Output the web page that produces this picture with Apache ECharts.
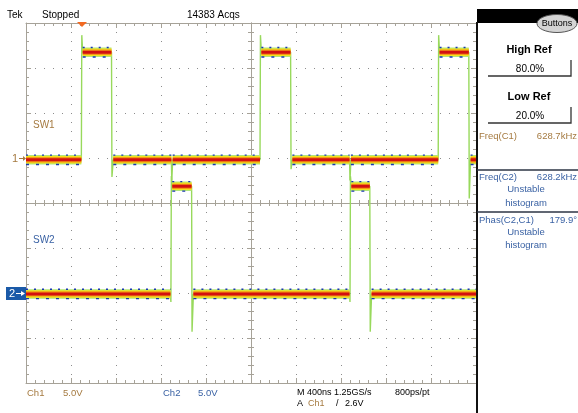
<!DOCTYPE html>
<html><head><meta charset="utf-8">
<script src="https://cdn.jsdelivr.net/npm/echarts@6/dist/echarts.min.js"></script>
<style>html,body{margin:0;padding:0;background:#fff}#c{width:578px;height:413px}</style>
</head><body><div id="c"></div><script>
// Graticule units: divisions (x: -5..5, y: -4..4)
// CH1 (SW1) trace
const ch1X = [-5, -3.77, -3.76, -3.74, -3.10, -3.09, -3.06, -1.77, -1.76, -1.74, 0.20, 0.21, 0.23, 0.88, 0.89, 0.92, 2.19, 2.20, 2.22, 4.16, 4.17, 4.19, 4.84, 4.85, 4.88, 5];
const ch1Y = [0.96, 0.96, 3.73, 3.35, 3.35, 0.58, 0.96, 0.96, 0.5, 0.96, 0.96, 3.73, 3.35, 3.35, 0.75, 0.96, 0.96, 0.5, 0.96, 0.96, 3.73, 3.35, 3.35, 0.1, 0.96, 0.96];
// CH2 (SW2) trace
const ch2X = [-5, -1.79, -1.78, -1.77, -1.75, -1.32, -1.31, -1.28, 2.19, 2.20, 2.21, 2.23, 2.64, 2.65, 2.68, 5];
const ch2Y = [-2.02, -2.02, -2.2, 0.6, 0.37, 0.37, -2.86, -2.02, -2.02, -2.2, 0.6, 0.37, 0.37, -2.86, -2.02, -2.02];
const xRange = [-5, 5];
const yRange = [-4, 4];

const tan = '#a57a40', blue = '#3a62a4', grat = '#a6a298';
const FONT = "'Liberation Sans', Arial, sans-serif";

function pts(xs, ys) { return xs.map((x, i) => [x, ys[i]]); }
function flats(xs, ys, dy) {
  const out = [];
  for (let i = 0; i < xs.length - 1; i++) {
    if (ys[i] === ys[i + 1] && xs[i + 1] > xs[i]) {
      out.push([xs[i], ys[i] + dy], [xs[i + 1], ys[i + 1] + dy], ['-', '-']);
    }
  }
  return out;
}
function lineS(data, color, width, type, z) {
  return { type: 'line', data: data, symbol: 'none', silent: true, animation: false, connectNulls: false, z: z,
    lineStyle: { color: color, width: width, type: type || 'solid', cap: 'butt' } };
}
function traceSeries(xs, ys) {
  return [
    lineS(pts(xs, ys), '#98d95c', 1.4, 'solid', 2),
    lineS(flats(xs, ys, 0), '#b2e67a', 9.5, 'solid', 3),
    lineS(flats(xs, ys, 0), '#f2e21e', 7.5, 'solid', 4),
    lineS(flats(xs, ys, 0), '#f49a14', 5.4, 'solid', 5),
    lineS(flats(xs, ys, 0), '#d21010', 3, 'solid', 6),
    lineS(flats(xs, ys, 0.105), '#1a36b0', 1.4, [2, 6], 7),
    lineS(flats(xs, ys, -0.105), '#1a36b0', 1.4, [3, 7], 7)
  ];
}

function ax(opts) {
  const a = {
    type: 'value', min: opts.min, max: opts.max, interval: 1, silent: true,
    position: opts.position,
    axisLabel: { show: false },
    axisLine: { show: true, onZero: !!opts.onZero, lineStyle: { color: grat, width: 1 } },
    axisTick: { show: true, inside: opts.inside, length: opts.tickLen || 5, lineStyle: { color: grat } },
    minorTick: { show: true, splitNumber: 5, length: opts.minorLen || 3, lineStyle: { color: grat } },
    splitLine: opts.split ? { show: true, lineStyle: { color: '#8c8c8c', width: 1, type: [1, 8] } } : { show: false }
  };
  if (opts.onZero) a.axisLine.onZeroAxisIndex = 0;
  return a;
}

const chart = echarts.init(document.getElementById('c'), null, { renderer: 'canvas' });

function T(text, x, y, color, font, align) {
  return { type: 'text', silent: true, z: 100,
    style: { text: text, x: x, y: y, fill: color || '#000', font: font || ('10px ' + FONT),
      align: align || 'left', textAlign: align || 'left', verticalAlign: 'middle', textVerticalAlign: 'middle' } };
}

const graphics = [
  // header
  T('Tek', 7, 15, '#000'),
  T('Stopped', 42, 15, '#000'),
  T('14383 Acqs', 187, 15, '#000'),
  { type: 'polygon', silent: true, z: 100, shape: { points: [[77, 22], [87, 22], [82, 27]] }, style: { fill: '#f26a22' } },
  // channel labels
  T('SW1', 33, 125, tan),
  T('SW2', 33, 240, blue),
  T('1', 12, 159, tan, '11px ' + FONT),
  { type: 'line', silent: true, z: 100, shape: { x1: 19, y1: 158.5, x2: 25, y2: 158.5 }, style: { stroke: tan, lineWidth: 1 } },
  { type: 'polygon', silent: true, z: 100, shape: { points: [[23, 156], [26, 158.5], [23, 161]] }, style: { fill: tan } },
  { type: 'rect', silent: true, z: 99, shape: { x: 6, y: 287, width: 20, height: 13 }, style: { fill: '#1a5aa8' } },
  T('2', 9, 293.5, '#fff', '11px ' + FONT),
  { type: 'line', silent: true, z: 100, shape: { x1: 16, y1: 293.5, x2: 24, y2: 293.5 }, style: { stroke: '#fff', lineWidth: 1 } },
  { type: 'polygon', silent: true, z: 100, shape: { points: [[21, 291], [25, 293.5], [21, 296]] }, style: { fill: '#fff' } },
  // footer
  T('Ch1', 27, 393, tan, '9.5px ' + FONT),
  T('5.0V', 63, 393, tan, '9.5px ' + FONT),
  T('Ch2', 163, 393, blue, '9.5px ' + FONT),
  T('5.0V', 198, 393, blue, '9.5px ' + FONT),
  T('M 400ns 1.25GS/s', 297, 393, '#000', '9px ' + FONT),
  T('800ps/pt', 395, 393, '#000', '9px ' + FONT),
  T('A', 297, 404, '#000', '9px ' + FONT),
  T('Ch1', 308, 404, tan, '9px ' + FONT),
  T('/', 336, 404, '#000', '9px ' + FONT),
  T('2.6V', 345, 404, '#000', '9px ' + FONT),
  // right panel
  { type: 'rect', silent: true, z: 98, shape: { x: 477, y: 9, width: 101, height: 14 }, style: { fill: '#000' } },
  { type: 'rect', silent: true, z: 98, shape: { x: 476, y: 22, width: 2, height: 391 }, style: { fill: '#111' } },
  { type: 'ellipse', silent: true, z: 99, shape: { cx: 557, cy: 23.5, rx: 20, ry: 9 }, style: { fill: '#d4d4d4', stroke: '#555', lineWidth: 1 } },
  T('Buttons', 557, 23.5, '#000', '9px ' + FONT, 'center'),
  T('High Ref', 529, 50, '#000', 'bold 11px ' + FONT, 'center'),
  T('80.0%', 530, 69, '#000', '10px ' + FONT, 'center'),
  { type: 'polyline', silent: true, z: 100, shape: { points: [[488, 76], [571, 76], [571, 60]] }, style: { stroke: '#333', lineWidth: 1.3, fill: null } },
  T('Low Ref', 529, 97, '#000', 'bold 11px ' + FONT, 'center'),
  T('20.0%', 530, 116, '#000', '10px ' + FONT, 'center'),
  { type: 'polyline', silent: true, z: 100, shape: { points: [[488, 123], [571, 123], [571, 107]] }, style: { stroke: '#333', lineWidth: 1.3, fill: null } },
  T('Freq(C1)', 479, 136, tan, '9.5px ' + FONT),
  T('628.7kHz', 577, 136, tan, '9.5px ' + FONT, 'right'),
  { type: 'line', silent: true, z: 100, shape: { x1: 477, y1: 170, x2: 578, y2: 170 }, style: { stroke: '#2c3444', lineWidth: 1.5 } },
  T('Freq(C2)', 479, 177, blue, '9.5px ' + FONT),
  T('628.2kHz', 577, 177, blue, '9.5px ' + FONT, 'right'),
  T('Unstable', 526, 189, blue, '9.5px ' + FONT, 'center'),
  T('histogram', 526, 203, blue, '9.5px ' + FONT, 'center'),
  { type: 'line', silent: true, z: 100, shape: { x1: 477, y1: 212, x2: 578, y2: 212 }, style: { stroke: '#2c3444', lineWidth: 1.5 } },
  T('Phas(C2,C1)', 479, 220, blue, '9.5px ' + FONT),
  T('179.9°', 577, 220, blue, '9.5px ' + FONT, 'right'),
  T('Unstable', 526, 232, blue, '9.5px ' + FONT, 'center'),
  T('histogram', 526, 245, blue, '9.5px ' + FONT, 'center')
];

chart.setOption({
  animation: false,
  backgroundColor: '#ffffff',
  grid: { left: 26, top: 23, width: 450, height: 360, containLabel: false, outerBoundsMode: 'none' },
  xAxis: [
    ax({ min: xRange[0], max: xRange[1], position: 'bottom', inside: true, split: true }),
    ax({ min: xRange[0], max: xRange[1], position: 'top', inside: true }),
    ax({ min: xRange[0], max: xRange[1], position: 'bottom', inside: true, onZero: true, tickLen: 4, minorLen: 3 }),
    ax({ min: xRange[0], max: xRange[1], position: 'bottom', inside: false, onZero: true, tickLen: 4, minorLen: 3 })
  ],
  yAxis: [
    ax({ min: yRange[0], max: yRange[1], position: 'left', inside: true, split: true }),
    ax({ min: yRange[0], max: yRange[1], position: 'right', inside: true }),
    ax({ min: yRange[0], max: yRange[1], position: 'left', inside: true, onZero: true, tickLen: 4, minorLen: 3 }),
    ax({ min: yRange[0], max: yRange[1], position: 'left', inside: false, onZero: true, tickLen: 4, minorLen: 3 })
  ],
  series: traceSeries(ch1X, ch1Y).concat(traceSeries(ch2X, ch2Y)),
  graphic: graphics
});
</script></body></html>
